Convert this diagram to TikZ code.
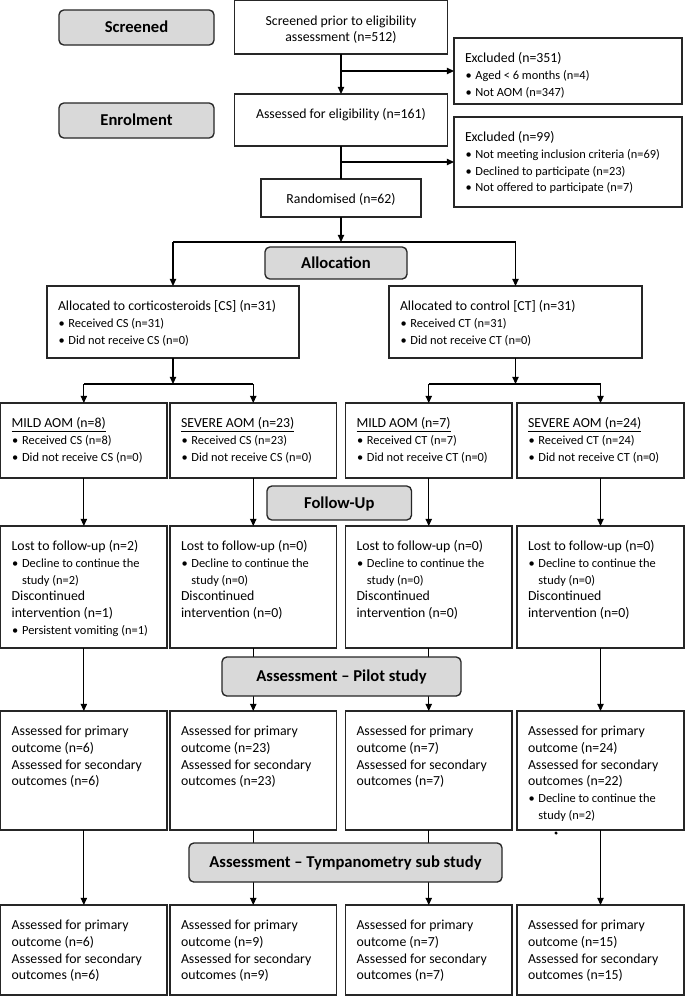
\documentclass[tikz,border=0pt]{standalone}
\usepackage{fontspec}
\setmainfont{Carlito}
\usetikzlibrary{arrows.meta}
\definecolor{labgray}{HTML}{D9D9D9}
\newcommand\fs{\fontsize{10.35pt}{12.6pt}\selectfont}
\newcommand\sm{\fontsize{9.3pt}{12.6pt}\selectfont}
\newcommand\fb{\fontsize{12.45pt}{14pt}\selectfont\bfseries}
\newcommand\bu[1]{\makebox[7.8pt][l]{\hspace{0.4pt}\sm\textbullet}{\sm #1}}
\newcommand\bc[1]{\hspace*{7.8pt}{\sm #1}}
\newcommand\bx[5]{\pgfmathsetmacro\bw{(#4-#2)*0.75}\pgfmathsetmacro\bh{(#5-#3)*0.75}\node[box,minimum width=\bw pt,minimum height=\bh pt] (#1) at (#2,#3) {};}
\newcommand\lb[6]{\pgfmathsetmacro\bw{(#4-#2)*0.75}\pgfmathsetmacro\bh{(#5-#3)*0.75}\node[lab,minimum width=\bw pt,minimum height=\bh pt,anchor=north west] (#1) at (#2,#3) {#6};}
\newcommand\tx[2]{\node[txt] (#1-t) at ([shift={(11,12.7)}]#1.north west) {\strut #2};}
\newcommand\ctx[2]{\node[ctxt] (#1-t) at ([shift={(0,12.7)}]#1.north) {\strut #2};}
\begin{document}
\begin{tikzpicture}[x=0.75pt,y=-0.75pt,
 box/.style={draw=black!85, line width=1.05pt, fill=white, anchor=north west, inner sep=0pt, outer sep=0pt},
 lab/.style={draw=black!85, line width=1pt, fill=labgray, rounded corners=3.6pt, inner sep=0pt, outer sep=0pt, font=\fb, text height=8pt, text depth=0pt},
 txt/.style={anchor=north west, inner sep=0pt, outer sep=0pt, align=left, font=\fs},
 ctxt/.style={anchor=north, inner sep=0pt, outer sep=0pt, align=center, font=\fs},
 ln/.style={draw=black, line width=0.8pt},
 arr/.style={ln, -{Triangle[length=5.4pt,width=4.8pt]}}]
\fill[white] (0,0) rectangle (685,996);
\useasboundingbox (0,0) rectangle (685,996);

% top boxes
\bx{scr}{234.5}{0.7}{447.5}{54}
\ctx{scr}{Screened prior to eligibility\\assessment (n=512)}
\bx{ex1}{454}{38}{682}{104}
\tx{ex1}{Excluded (n=351)\\ \bu{Aged < 6 months (n=4)}\\ \bu{Not AOM (n=347)}}
\bx{elig}{234.5}{94}{447.5}{146}
\ctx{elig}{Assessed for eligibility (n=161)}
\bx{ex2}{454}{117}{682}{207}
\tx{ex2}{Excluded (n=99)\\ \bu{Not meeting inclusion criteria (n=69)}\\ \bu{Declined to participate (n=23)}\\ \bu{Not offered to participate (n=7)}}
\bx{rand}{261}{179}{421}{217}
\ctx{rand}{Randomised (n=62)}

% allocation boxes
\bx{cs}{47}{286}{299}{358}
\tx{cs}{Allocated to corticosteroids [CS] (n=31)\\ \bu{Received CS (n=31)}\\ \bu{Did not receive CS (n=0)}}
\bx{ct}{389}{286}{642}{358}
\tx{ct}{Allocated to control [CT] (n=31)\\ \bu{Received CT (n=31)}\\ \bu{Did not receive CT (n=0)}}

% row 2
\bx{m1}{0.7}{403}{167}{478}
\tx{m1}{\underline{MILD AOM (n=8)}\\ \bu{Received CS (n=8)}\\ \bu{Did not receive CS (n=0)}}
\bx{s1}{170}{403}{336.5}{478}
\tx{s1}{\underline{SEVERE AOM (n=23)}\\ \bu{Received CS (n=23)}\\ \bu{Did not receive CS (n=0)}}
\bx{m2}{345.5}{403}{512}{478}
\tx{m2}{\underline{MILD AOM (n=7)}\\ \bu{Received CT (n=7)}\\ \bu{Did not receive CT (n=0)}}
\bx{s2}{517}{403}{684}{478}
\tx{s2}{\underline{SEVERE AOM (n=24)}\\ \bu{Received CT (n=24)}\\ \bu{Did not receive CT (n=0)}}

% row 3
\bx{f1}{0.7}{526}{167}{648}
\tx{f1}{Lost to follow-up (n=2)\\ \bu{Decline to continue the}\\ \bc{study (n=2)}\\ Discontinued\\ intervention (n=1)\\ \bu{Persistent vomiting (n=1)}}
\bx{f2}{170}{526}{336.5}{648}
\tx{f2}{Lost to follow-up (n=0)\\ \bu{Decline to continue the}\\ \bc{study (n=0)}\\ Discontinued\\ intervention (n=0)}
\bx{f3}{345.5}{526}{512}{648}
\tx{f3}{Lost to follow-up (n=0)\\ \bu{Decline to continue the}\\ \bc{study (n=0)}\\ Discontinued\\ intervention (n=0)}
\bx{f4}{517}{526}{684}{648}
\tx{f4}{Lost to follow-up (n=0)\\ \bu{Decline to continue the}\\ \bc{study (n=0)}\\ Discontinued\\ intervention (n=0)}

% row 4
\bx{p1}{0.7}{711}{167}{830}
\tx{p1}{Assessed for primary\\ outcome (n=6)\\ Assessed for secondary\\ outcomes (n=6)}
\bx{p2}{170}{711}{336.5}{830}
\tx{p2}{Assessed for primary\\ outcome (n=23)\\ Assessed for secondary\\ outcomes (n=23)}
\bx{p3}{345.5}{711}{512}{830}
\tx{p3}{Assessed for primary\\ outcome (n=7)\\ Assessed for secondary\\ outcomes (n=7)}
\bx{p4}{517}{711}{684}{830}
\tx{p4}{Assessed for primary\\ outcome (n=24)\\ Assessed for secondary\\ outcomes (n=22)\\ \bu{Decline to continue the}\\ \bc{study (n=2)}}

% row 5
\bx{t1}{0.7}{905}{167}{995}
\tx{t1}{Assessed for primary\\ outcome (n=6)\\ Assessed for secondary\\ outcomes (n=6)}
\bx{t2}{170}{905}{336.5}{995}
\tx{t2}{Assessed for primary\\ outcome (n=9)\\ Assessed for secondary\\ outcomes (n=9)}
\bx{t3}{345.5}{905}{512}{995}
\tx{t3}{Assessed for primary\\ outcome (n=7)\\ Assessed for secondary\\ outcomes (n=7)}
\bx{t4}{517}{905}{684}{995}
\tx{t4}{Assessed for primary\\ outcome (n=15)\\ Assessed for secondary\\ outcomes (n=15)}

% connectors
\draw[arr] (scr.south) -- (elig.north);
\draw[arr] (scr.south |- ex1.west) -- (ex1.west);
\draw[ln] (elig.south) -- (rand.north);
\draw[arr] (elig.south |- ex2.west) -- (ex2.west);
\coordinate (sp1) at (341,242);
\draw[arr] (rand.south) -- (sp1);
\draw[ln] (cs.north |- sp1) -- (ct.north |- sp1);
\draw[arr] (cs.north |- sp1) -- (cs.north);
\draw[arr] (ct.north |- sp1) -- (ct.north);
\coordinate (sp2) at (173,384);
\draw[arr] (cs.south) -- (cs.south |- sp2);
\draw[ln] (m1.north |- sp2) -- (s1.north |- sp2);
\draw[arr] (m1.north |- sp2) -- (m1.north);
\draw[arr] (s1.north |- sp2) -- (s1.north);
\draw[arr] (ct.south) -- (ct.south |- sp2);
\draw[ln] (m2.north |- sp2) -- (s2.north |- sp2);
\draw[arr] (m2.north |- sp2) -- (m2.north);
\draw[arr] (s2.north |- sp2) -- (s2.north);
\foreach \a/\b in {m1/f1,s1/f2,m2/f3,s2/f4,f1/p1,f2/p2,f3/p3,f4/p4,p1/t1,p2/t2,p3/t3,p4/t4}
  \draw[arr] (\a.south) -- (\b.north);
\fill[black] (556,833) circle[radius=1.3pt];

% stage labels
\lb{lscr}{59}{10}{214}{45}{Screened}
\lb{lenr}{59}{103}{214}{138}{Enrolment}
\lb{lall}{265}{247}{407}{279}{Allocation}
\lb{lfol}{267}{486}{411.5}{520}{Follow-Up}
\lb{lpil}{222}{657}{461}{696}{Assessment – Pilot study}
\lb{ltym}{189}{843}{502}{882}{Assessment – Tympanometry sub study}
\end{tikzpicture}
\end{document}
